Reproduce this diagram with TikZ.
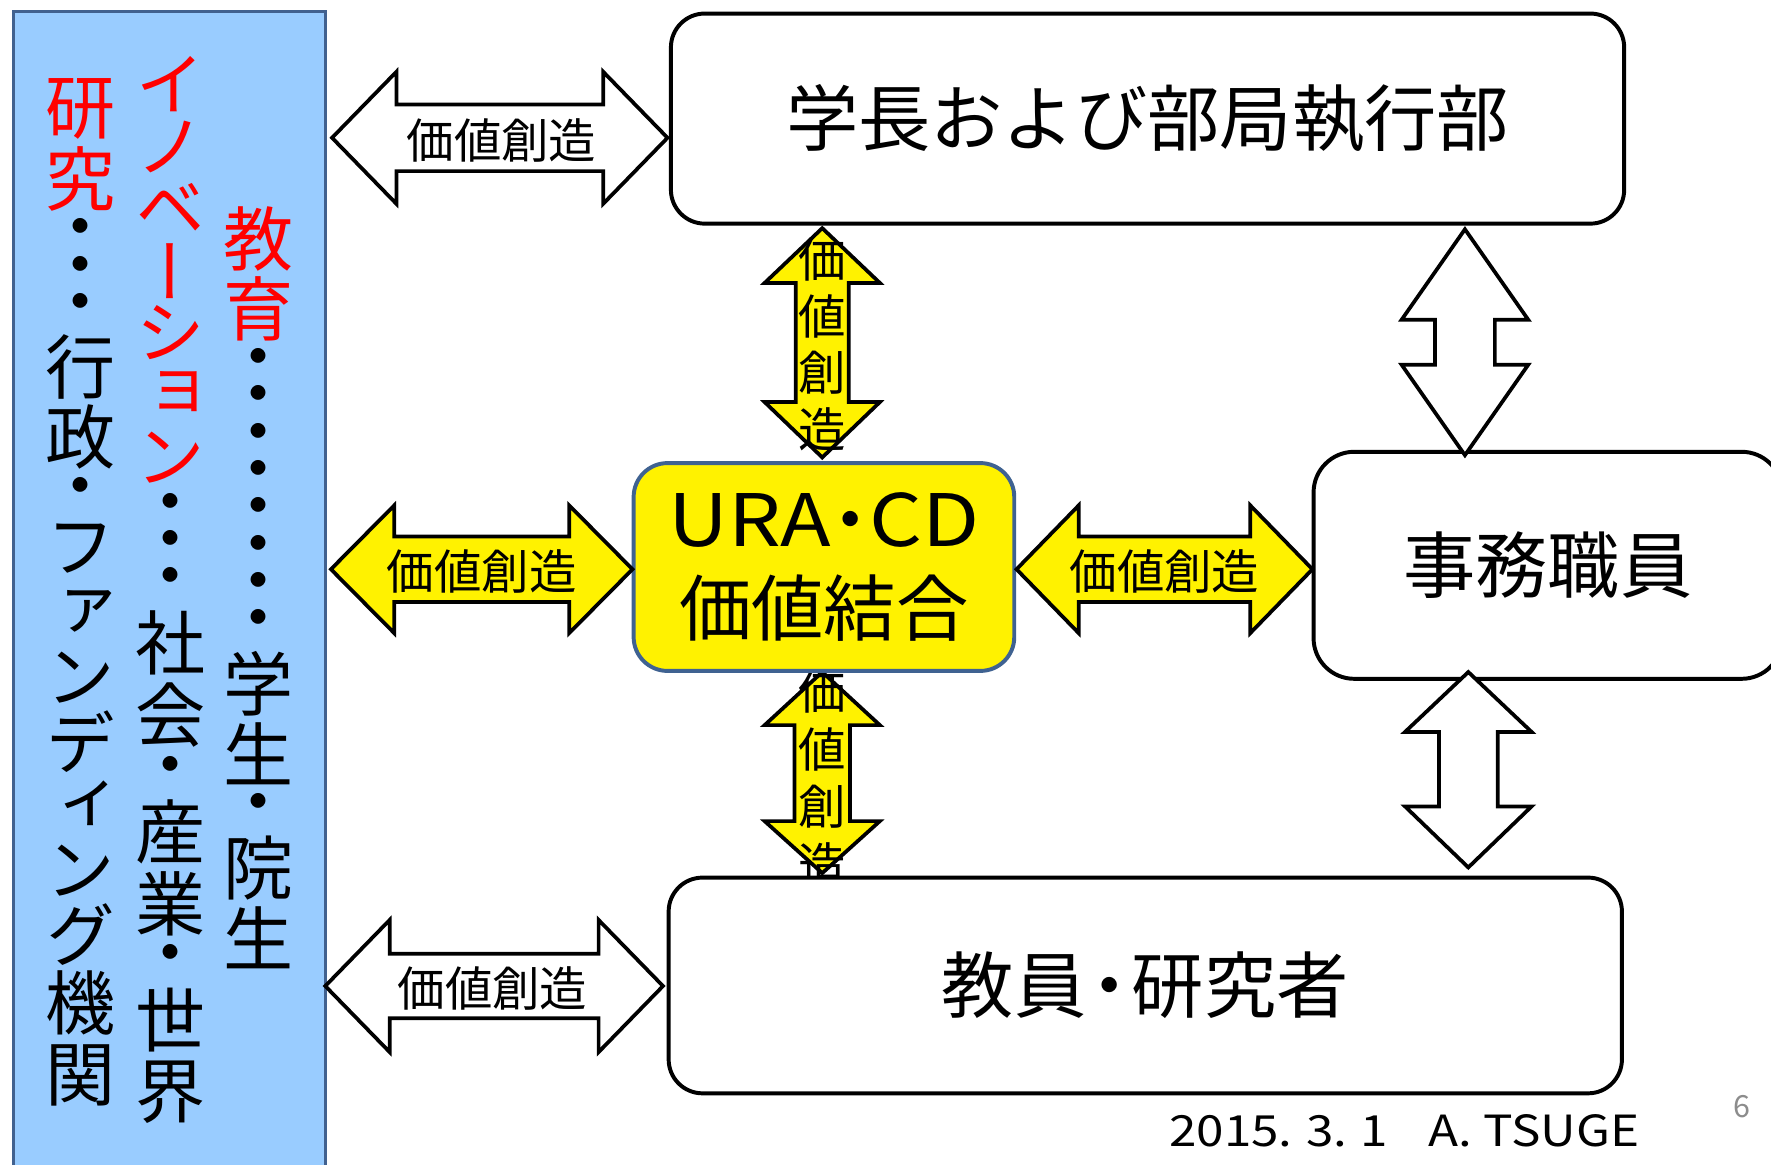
\documentclass[tikz,border=0pt]{standalone}
\usepackage{fontspec}
\setmainfont{Noto Sans CJK JP}
\newfontfamily\vjfont{Noto Sans CJK JP}[RawFeature=+vert]
\newfontfamily\footfont{Noto Sans CJK JP}[FakeStretch=1.15]
\newfontfamily\widefont{Noto Sans CJK JP}[FakeStretch=1.15]
\usetikzlibrary{calc}
\definecolor{bluefill}{HTML}{99CCFF}
\definecolor{blueedge}{HTML}{41618F}
\definecolor{uraedge}{HTML}{3F6291}
\definecolor{pagegray}{HTML}{8C8C8C}
\definecolor{jred}{HTML}{FF0000}
\newlength\cellA
\newlength\cellK
\newlength\cellD
\newcommand\vcell[2]{\hbox to 0pt{\hss\vbox to #1{\vss\hbox{#2}\vss}\hss}}
\newcommand\vfc[1]{\vcell{\cellA}{#1}}
\newcommand\vkc[1]{\vcell{\cellK}{#1}}
\newcommand\vhd{\vcell{\cellD}{・}}
\newcommand\vpd{\vskip 3pt}
\newcommand\harrow[6]{%
  \draw[blockarrow, fill=#6] (#1) -- ($(#1)+(#3,-#4)$) -- ($(#1)+(#3,-#5)$) -- ($(#2)+(-#3,-#5)$) -- ($(#2)+(-#3,-#4)$) -- (#2)
   -- ($(#2)+(-#3,#4)$) -- ($(#2)+(-#3,#5)$) -- ($(#1)+(#3,#5)$) -- ($(#1)+(#3,#4)$) -- cycle;}
\newcommand\varrow[7]{%
  \draw[blockarrow, fill=#7] (#1) -- ($(#1)+(#5,#3)$) -- ($(#1)+(#6,#3)$) -- ($(#2)+(#6,-#4)$) -- ($(#2)+(#5,-#4)$) -- (#2)
   -- ($(#2)+(-#5,-#4)$) -- ($(#2)+(-#6,-#4)$) -- ($(#1)+(-#6,#3)$) -- ($(#1)+(-#5,#3)$) -- cycle;}
\tikzset{
  blockarrow/.style={draw=black, line width=3.3pt, line join=miter},
  mainbox/.style={draw=black, fill=white, line width=3.5pt, rounded corners=30pt, inner sep=0pt},
  urabox/.style={draw=uraedge, fill=yellow, line width=3.5pt, rounded corners=30pt, inner sep=0pt, align=center},
  vtext/.style={inner sep=0pt, font=\vjfont\fontsize{62}{62}\selectfont},
  vatext/.style={inner sep=0pt, font=\vjfont\fontsize{42}{42}\selectfont},
  arrowtext/.style={inner sep=0pt, font=\fontsize{42}{42}\selectfont},
  bigtext/.style={font=\fontsize{64}{64}\selectfont}
}
\begin{document}
\begin{tikzpicture}[x=1pt,y=-1pt]
\useasboundingbox (0,0) rectangle (1568,1031);
\clip (0,0) rectangle (1568,1031);
\fill[white] (0,0) rectangle (1568,1031);

% left blue panel
\node[draw=blueedge, fill=bluefill, line width=3pt, minimum width=276pt, minimum height=1040pt, inner sep=0pt] (panel) at (150,530) {};

\node[vtext, anchor=north] (col1) at (71,65) {\setlength\cellA{62pt}\setlength\cellK{57pt}\setlength\cellD{33pt}\vbox{\offinterlineskip
  \vfc{\color{jred}研}\vfc{\color{jred}究}\vpd\vhd\vhd\vhd\vpd\vfc{行}\vfc{政}\vpd\vhd\vpd\vkc{フ}\vkc{ァ}\vkc{ン}\vkc{デ}\vkc{ィ}\vkc{ン}\vkc{グ}\setlength\cellA{64pt}\vfc{機}\vfc{関}}};
\node[vtext, anchor=north] (col2) at (151,47) {\setlength\cellA{64pt}\setlength\cellK{55pt}\setlength\cellD{33pt}\vbox{\offinterlineskip
  \vkc{\color{jred}イ}\vkc{\color{jred}ノ}\vkc{\color{jred}ベ}\vkc{\color{jred}ー}\vkc{\color{jred}シ}\vkc{\color{jred}ョ}\vkc{\color{jred}ン}\vpd\vhd\vhd\vhd\vpd\vfc{社}\vfc{会}\vpd\vhd\vpd\vfc{産}\vfc{業}\vpd\vhd\vpd\vfc{世}\vfc{界}}};
\node[vtext, anchor=north] (col3) at (229,180) {\setlength\cellA{62pt}\setlength\cellD{33pt}\vbox{\offinterlineskip
  \vfc{\color{jred}教}\vfc{\color{jred}育}\vpd\vhd\vhd\vhd\vhd\vhd\vhd\vhd\vhd\vpd\vfc{学}\vfc{生}\vpd\vhd\vpd\vfc{院}\vfc{生}}};

% yellow vertical arrows (behind boxes)
\coordinate (vuT) at (728,202);
\coordinate (vuB) at (728,405);
\varrow{vuT}{vuB}{48.5}{49}{51}{23.5}{yellow}
\node[vatext] (vutext) at (728,305) {\setlength\cellA{50pt}\vbox{\offinterlineskip\vfc{価}\vfc{値}\vfc{創}\vfc{造}}};
\coordinate (vlT) at (728,595);
\coordinate (vlB) at (728,773);
\varrow{vlT}{vlB}{47}{46}{51}{24.5}{yellow}
\node[vatext] (vltext) at (728,689) {\setlength\cellA{51pt}\vbox{\offinterlineskip\vfc{価}\vfc{値}\vfc{創}\vfc{造}}};

% boxes
\node[mainbox, bigtext, minimum width=844pt, minimum height=186pt] (top) at (1016,105) {学長および部局執行部};
\node[urabox, minimum width=337pt, minimum height=184pt, font=\fontsize{64}{78}\selectfont] (ura) at (729.5,502) {{\widefont URA}\hspace{-15pt}・\hspace{-15pt}{\widefont CD}\\価値結合};
\node[mainbox, bigtext, minimum width=415pt, minimum height=201pt, rounded corners=36pt] (jimu) at (1370.5,500.5) {事務職員};
\node[mainbox, minimum width=844pt, minimum height=191pt, font=\fontsize{64}{64}\selectfont] (kyoin) at (1014,872.5) {教員\hspace{-12pt}・\hspace{-12pt}研究者};

% white vertical arrows on the right
\coordinate (ruT) at (1297,203);
\coordinate (ruB) at (1297,403);
\varrow{ruT}{ruB}{80}{80}{56}{26.5}{white}
\coordinate (rlT) at (1300,595);
\coordinate (rlB) at (1300,768);
\varrow{rlT}{rlB}{53}{54}{56}{26}{white}

% horizontal arrows
\coordinate (h1L) at (294,122);
\coordinate (h1R) at (591,122);
\harrow{h1L}{h1R}{57}{58.5}{29.5}{white}
\node[arrowtext] (h1text) at (444,124) {価値創造};
\coordinate (h2L) at (293,504);
\coordinate (h2R) at (560,504);
\harrow{h2L}{h2R}{56}{56.5}{29}{yellow}
\node[arrowtext] (h2text) at (426.5,506) {価値創造};
\coordinate (h3L) at (900,504);
\coordinate (h3R) at (1162,504);
\harrow{h3L}{h3R}{55}{56.5}{29}{yellow}
\node[arrowtext] (h3text) at (1031,506) {価値創造};
\coordinate (h4L) at (288,873);
\coordinate (h4R) at (587,873);
\harrow{h4L}{h4R}{57}{58.5}{28.5}{white}
\node[arrowtext] (h4text) at (436,875) {価値創造};

% footer
\node[inner sep=0pt, font=\footfont\fontsize{38}{38}\selectfont, anchor=base west] (footer) at (1035,1015) {2015.\hspace{12pt}3.\hspace{12pt}1\hspace{36pt}A.\hspace{10pt}TSUGE};
\node[inner sep=0pt, font=\fontsize{27}{27}\selectfont, text=pagegray] (pageno) at (1542,980) {6};
\end{tikzpicture}
\end{document}
